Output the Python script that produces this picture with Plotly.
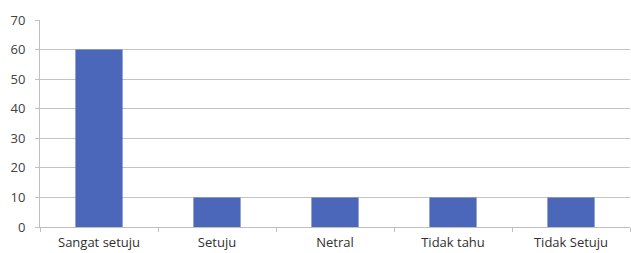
import plotly.graph_objects as go

categories = ["Sangat setuju", "Setuju", "Netral", "Tidak tahu", "Tidak Setuju"]
values = [60, 10, 10, 10, 10]
y_ticks = [0, 10, 20, 30, 40, 50, 60, 70]

fig = go.Figure()
fig.add_trace(go.Bar(x=categories, y=values, marker=dict(color="#4a67b9", line=dict(width=0)), width=0.4))

fig.update_layout(
    width=631, height=253,
    margin=dict(l=40, r=1, t=20, b=26),
    paper_bgcolor="white", plot_bgcolor="white",
    showlegend=False,
    font=dict(family="Open Sans", size=13, color="#404040"),
)
fig.update_xaxes(
    showgrid=False, showline=True, linecolor="#bfbfbf", linewidth=1,
    ticks="outside", ticklen=4, tickcolor="#bfbfbf", tickson="boundaries",
    tickfont=dict(size=13, color="#303030"), ticklabelstandoff=3,
)
fig.update_yaxes(
    range=[0, 70], tickvals=y_ticks, showgrid=True, gridcolor="#c4c4c4",
    showline=True, linecolor="#bfbfbf", zeroline=False,
    ticks="outside", ticklen=4, tickcolor="#bfbfbf",
    tickfont=dict(size=13, color="#404040"), ticklabelstandoff=7,
)
fig.write_html(
    "out.html",
    config={"displayModeBar": False},
    post_script="document.body.style.margin='0';document.body.style.overflow='hidden';",
)
